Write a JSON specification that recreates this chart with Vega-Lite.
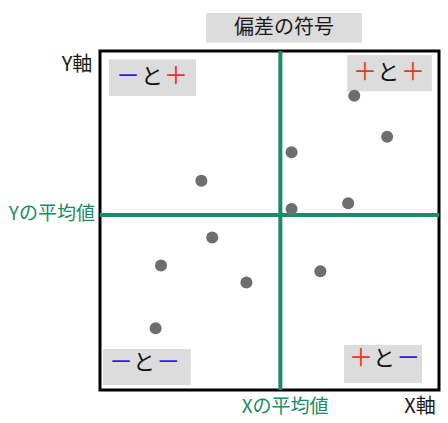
{
  "$schema": "https://vega.github.io/schema/vega-lite/v6.json",
  "width": 339,
  "height": 339,
  "autosize": "none",
  "padding": {"left": 100, "top": 51, "right": 9, "bottom": 33},
  "background": "white",
  "config": {
    "view": {"stroke": "black", "strokeWidth": 3},
    "text": {"font": "Noto Sans CJK JP"}
  },
  "datasets": {
    "points": [
      {"x": 75.0, "y": 86.8},
      {"x": 84.7, "y": 74.7},
      {"x": 56.5, "y": 70.1},
      {"x": 29.9, "y": 61.7},
      {"x": 56.5, "y": 53.4},
      {"x": 73.2, "y": 55.1},
      {"x": 33.1, "y": 45.0},
      {"x": 18.0, "y": 36.7},
      {"x": 43.2, "y": 31.7},
      {"x": 65.0, "y": 35.0},
      {"x": 16.4, "y": 18.2}
    ],
    "boxes": [
      {"x1": 31.3, "x2": 77.3, "y1": 102.4, "y2": 111.2},
      {"x1": 2.65, "x2": 28.3, "y1": 86.7, "y2": 97.6},
      {"x1": 72.9, "x2": 97.9, "y1": 88.1, "y2": 98.8},
      {"x1": 0.9, "x2": 26.8, "y1": 1.5, "y2": 12.1},
      {"x1": 72.0, "x2": 95.0, "y1": 2.1, "y2": 13.3}
    ],
    "glyphs": [
      {"x": 8.26, "y": 92.3, "t": "－", "c": "neg"},
      {"x": 15.34, "y": 92.3, "t": "と", "c": "txt"},
      {"x": 22.42, "y": 92.3, "t": "＋", "c": "pos"},
      {"x": 78.2, "y": 93.5, "t": "＋", "c": "pos"},
      {"x": 85.0, "y": 93.5, "t": "と", "c": "txt"},
      {"x": 92.3, "y": 93.5, "t": "＋", "c": "pos"},
      {"x": 6.2, "y": 8.0, "t": "－", "c": "neg"},
      {"x": 13.0, "y": 8.0, "t": "と", "c": "txt"},
      {"x": 20.1, "y": 8.0, "t": "－", "c": "neg"},
      {"x": 77.0, "y": 9.1, "t": "＋", "c": "pos"},
      {"x": 83.8, "y": 9.1, "t": "と", "c": "txt"},
      {"x": 90.9, "y": 9.1, "t": "－", "c": "neg"}
    ],
    "blackLabels": [
      {"x": 54.3, "y": 106.8, "t": "偏差の符号"},
      {"x": -6.8, "y": 95.9, "t": "Y軸"},
      {"x": 94.4, "y": -5.0, "t": "X軸"}
    ],
    "greenLabels": [
      {"x": 54.6, "y": -5.0, "t": "Xの平均値"}
    ],
    "greenRight": [
      {"x": -1.5, "y": 51.9, "t": "Yの平均値"}
    ]
  },
  "layer": [
    {
      "data": {"name": "boxes"},
      "mark": {"type": "rect", "color": "#dcdcdc", "clip": false},
      "encoding": {
        "x": {"field": "x1", "type": "quantitative", "scale": {"domain": [0, 100], "nice": false, "zero": false}, "axis": null},
        "x2": {"field": "x2"},
        "y": {"field": "y1", "type": "quantitative", "scale": {"domain": [0, 100], "nice": false, "zero": false}, "axis": null},
        "y2": {"field": "y2"}
      }
    },
    {
      "data": {"values": [{"m": 53.2}]},
      "mark": {"type": "rule", "color": "#178c68", "strokeWidth": 4},
      "encoding": {"x": {"field": "m", "type": "quantitative"}}
    },
    {
      "data": {"values": [{"m": 51.6}]},
      "mark": {"type": "rule", "color": "#178c68", "strokeWidth": 4},
      "encoding": {"y": {"field": "m", "type": "quantitative"}}
    },
    {
      "data": {"name": "points"},
      "mark": {"type": "circle", "size": 145, "color": "#6e6e6e", "opacity": 1},
      "encoding": {
        "x": {"field": "x", "type": "quantitative"},
        "y": {"field": "y", "type": "quantitative"}
      }
    },
    {
      "data": {"name": "glyphs"},
      "transform": [{"filter": "datum.c !== 'txt'"}],
      "mark": {"type": "text", "fontSize": 24, "clip": false, "baseline": "middle", "align": "center"},
      "encoding": {
        "x": {"field": "x", "type": "quantitative"},
        "y": {"field": "y", "type": "quantitative"},
        "text": {"field": "t"},
        "color": {"field": "c", "type": "nominal", "scale": {"domain": ["neg", "pos", "txt"], "range": ["#2a1ee0", "#f0321e", "#111111"]}, "legend": null}
      }
    },
    {
      "data": {"name": "glyphs"},
      "transform": [{"filter": "datum.c === 'txt'"}],
      "mark": {"type": "text", "fontSize": 22, "clip": false, "baseline": "middle", "align": "center"},
      "encoding": {
        "x": {"field": "x", "type": "quantitative"},
        "y": {"field": "y", "type": "quantitative"},
        "text": {"field": "t"},
        "color": {"field": "c", "type": "nominal", "scale": {"domain": ["neg", "pos", "txt"], "range": ["#2a1ee0", "#f0321e", "#111111"]}, "legend": null}
      }
    },
    {
      "data": {"name": "blackLabels"},
      "mark": {"type": "text", "fontSize": 20, "clip": false, "baseline": "middle", "align": "center", "color": "#1a1a1a"},
      "encoding": {
        "x": {"field": "x", "type": "quantitative"},
        "y": {"field": "y", "type": "quantitative"},
        "text": {"field": "t"}
      }
    },
    {
      "data": {"name": "greenLabels"},
      "mark": {"type": "text", "fontSize": 19, "clip": false, "baseline": "middle", "align": "center", "color": "#178c68"},
      "encoding": {
        "x": {"field": "x", "type": "quantitative"},
        "y": {"field": "y", "type": "quantitative"},
        "text": {"field": "t"}
      }
    },
    {
      "data": {"name": "greenRight"},
      "mark": {"type": "text", "fontSize": 19, "clip": false, "baseline": "middle", "align": "right", "color": "#178c68"},
      "encoding": {
        "x": {"field": "x", "type": "quantitative"},
        "y": {"field": "y", "type": "quantitative"},
        "text": {"field": "t"}
      }
    }
  ]
}
